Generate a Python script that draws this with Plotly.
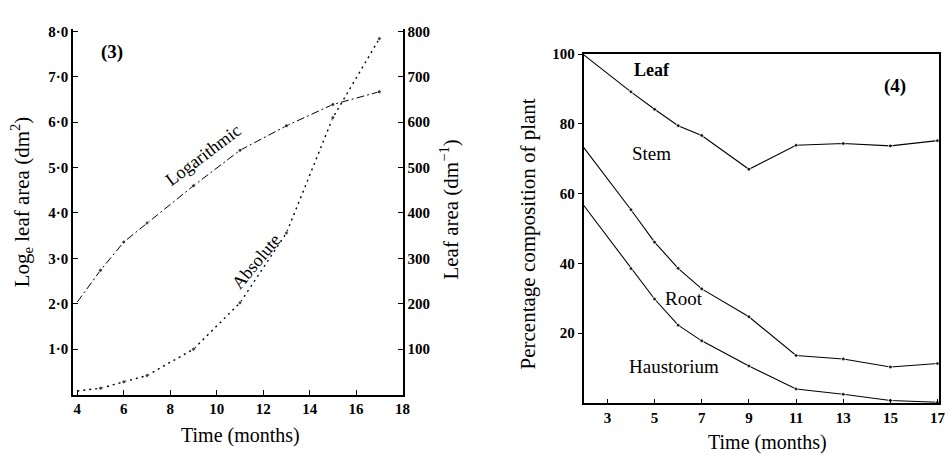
import plotly.graph_objects as go

# ---------------- data ----------------
# Panel (3): leaf area vs time
time_left = [4, 5, 6, 7, 9, 11, 13, 15, 17]
log_leaf_area = [2.04, 2.74, 3.36, 3.78, 4.6, 5.38, 5.92, 6.39, 6.67]
abs_leaf_area = [8, 14, 28, 42, 100, 202, 356, 610, 784]
left_x_ticks = [4, 6, 8, 10, 12, 14, 16, 18]
left_y_ticks = [1, 2, 3, 4, 5, 6, 7, 8]
left_y_ticktext = ["1·0", "2·0", "3·0", "4·0", "5·0", "6·0", "7·0", "8·0"]
right_y_ticks = [100, 200, 300, 400, 500, 600, 700, 800]

# Panel (4): percentage composition of plant (cumulative boundaries)
time_right = [2, 4, 5, 6, 7, 9, 11, 13, 15, 17]
leaf_stem_boundary = [99.8, 89.2, 84.2, 79.5, 76.7, 67.0, 73.9, 74.4, 73.7, 75.2]
stem_root_boundary = [73.2, 55.4, 46.1, 38.6, 32.7, 24.7, 13.6, 12.6, 10.3, 11.3]
root_haust_boundary = [56.6, 38.5, 29.8, 22.3, 17.8, 10.6, 4.0, 2.5, 0.7, 0.2]
right_x_ticks = [3, 5, 7, 9, 11, 13, 15, 17]
pct_ticks = [20, 40, 60, 80, 100]

# ---------------- layout helpers ----------------
W, H = 950, 455
FONT = "Liberation Serif"


def px(x, y):
    return x / W, 1 - y / H


def dom_x(a, b):
    return [a / W, b / W]


def dom_y(top, bottom):
    return [1 - bottom / H, 1 - top / H]


fig = go.Figure()

dots_first_hidden = [0] + [4] * (len(time_right) - 1)

fig.add_trace(go.Scatter(
    x=time_left, y=log_leaf_area, mode="lines+markers",
    line=dict(color="black", width=1, dash="8px,3px,2px,3px"),
    marker=dict(color="black", size=[0] + [4] * (len(time_left) - 1)),
    xaxis="x", yaxis="y", showlegend=False, hoverinfo="skip"))

fig.add_trace(go.Scatter(
    x=time_left, y=abs_leaf_area, mode="lines+markers",
    line=dict(color="black", width=1.4, dash="2px,4px"),
    marker=dict(color="black", size=[0] + [4] * (len(time_left) - 1)),
    xaxis="x", yaxis="y2", showlegend=False, hoverinfo="skip"))

for series in (leaf_stem_boundary, stem_root_boundary, root_haust_boundary):
    fig.add_trace(go.Scatter(
        x=time_right, y=series, mode="lines+markers",
        line=dict(color="black", width=1.1),
        marker=dict(color="black", size=dots_first_hidden),
        xaxis="x2", yaxis="y3", showlegend=False, hoverinfo="skip"))

tickfont = dict(family=FONT, size=15, color="black", weight="bold")
axis_common = dict(showgrid=False, zeroline=False, showline=True,
                   linecolor="black", tickcolor="black", tickfont=tickfont)

fig.update_layout(
    width=W, height=H,
    margin=dict(l=0, r=0, t=0, b=0),
    paper_bgcolor="white", plot_bgcolor="white",
    xaxis=dict(domain=dom_x(74, 406), range=[3.83, 18], tickvals=left_x_ticks,
               ticks="inside", ticklen=5, tickwidth=1.2, linewidth=1.8,
               anchor="y", **axis_common),
    yaxis=dict(domain=dom_y(21.5, 393.5), range=[0, 8.05], tickvals=left_y_ticks,
               ticktext=left_y_ticktext, ticks="inside", ticklen=5, tickwidth=1.2,
               linewidth=2, anchor="x", **axis_common),
    yaxis2=dict(domain=dom_y(21.5, 393.5), range=[0, 805], tickvals=right_y_ticks,
                ticks="inside", ticklen=5, tickwidth=1.2, linewidth=2,
                overlaying="y", side="right", anchor="x", **axis_common),
    xaxis2=dict(domain=dom_x(588.75, 946.75), range=[2.0, 17.05], tickvals=right_x_ticks,
                ticks="inside", ticklen=4, tickwidth=1.2, linewidth=2, mirror=True,
                anchor="y3", **axis_common),
    yaxis3=dict(domain=dom_y(47, 402), range=[0, 100], tickvals=pct_ticks,
                ticks="outside", ticklen=4, tickwidth=1.2, linewidth=2, mirror=True,
                anchor="x2", **axis_common),
)


def note(text, x, y, size=17, angle=0, bold=False):
    xp, yp = px(x, y)
    fig.add_annotation(
        text=text, x=xp, y=yp, xref="paper", yref="paper", showarrow=False,
        textangle=angle, xanchor="center", yanchor="middle",
        font=dict(family=FONT, size=size, color="black",
                  weight="bold" if bold else "normal"))


note("(3)", 113, 45, size=19, bold=True)
note("Logarithmic", 205, 150, size=18, angle=-37)
note("Absolute", 259, 258, size=18, angle=-50)
note("Log<sub>e</sub> leaf area (dm<sup>2</sup>)", 22, 197, size=21, angle=-90)
note("Leaf area (dm<sup>−1</sup>)", 453, 205, size=21, angle=-90)
note("Time (months)", 243, 435, size=20)

note("Leaf", 658, 63, size=18, bold=True)
note("(4)", 903, 79, size=19, bold=True)
note("Stem", 657, 148, size=19)
note("Root", 690, 296, size=19)
note("Haustorium", 680, 365, size=19)
note("Percentage composition of plant", 532, 230, size=21, angle=-90)
note("Time (months)", 774, 442, size=20)

fig.write_html("out.html")
